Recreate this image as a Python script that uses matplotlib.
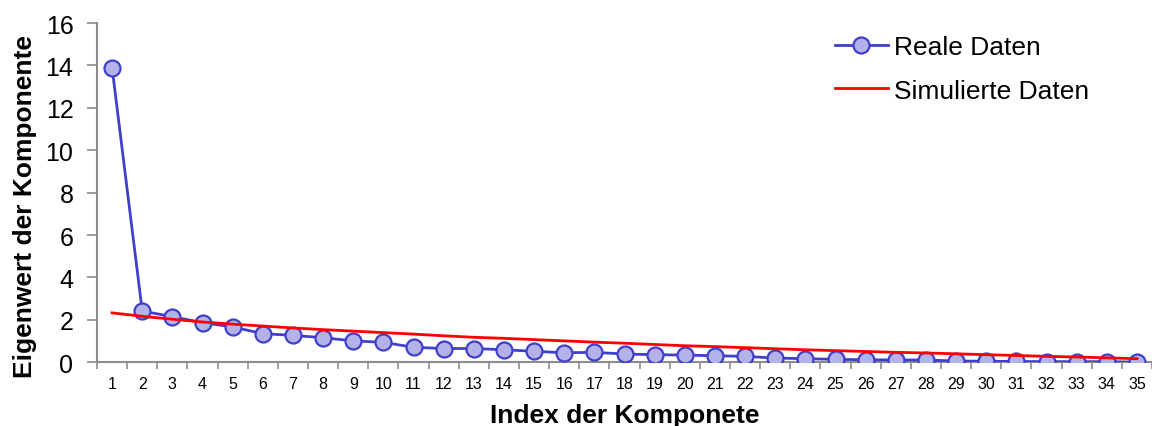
import matplotlib
matplotlib.use("Agg")
import matplotlib.pyplot as plt
from matplotlib.ticker import FixedLocator

plt.rcParams['font.family'] = ['Liberation Sans', 'DejaVu Sans']

components = list(range(1, 36))
real_data = [13.9, 2.42, 2.15, 1.87, 1.67, 1.35, 1.27, 1.16, 1.01, 0.94,
             0.71, 0.65, 0.65, 0.59, 0.52, 0.45, 0.47, 0.39, 0.36, 0.34,
             0.31, 0.28, 0.20, 0.17, 0.14, 0.12, 0.11, 0.11, 0.06, 0.05,
             0.04, 0.03, 0.03, 0.03, 0.01]
sim_data = [2.33, 2.17, 2.03, 1.90, 1.80, 1.71, 1.62, 1.54, 1.47, 1.40,
            1.33, 1.25, 1.18, 1.13, 1.07, 1.01, 0.95, 0.90, 0.84, 0.78,
            0.74, 0.69, 0.64, 0.59, 0.55, 0.51, 0.47, 0.44, 0.40, 0.36,
            0.32, 0.28, 0.25, 0.21, 0.17]
y_ticks = [0, 2, 4, 6, 8, 10, 12, 14, 16]

W, H = 1152, 427
fig = plt.figure(figsize=(W / 100, H / 100), dpi=100)
left, right, top, bottom = 97, 1152, 24, 363.3
aw, ah = right - left, bottom - top
ax = fig.add_axes([left / W, 1 - bottom / H, aw / W, ah / H])

ax.plot(components, real_data, color='#3f3fcc', lw=2.0, marker='o', ms=11.5,
        markerfacecolor='#b3b3ea', markeredgecolor='#3f3fcc', markeredgewidth=1.6,
        label='Reale Daten', zorder=3)
ax.plot(components, sim_data, color='#ff0000', lw=2.0, label='Simulierte Daten', zorder=4)

ax.set_xlim(0.5, 35.5)
ax.set_ylim(0, 16)
ax.set_yticks(y_ticks)
ax.set_xticks(components)
ax.set_xticklabels([str(c) for c in components], fontsize=11.5)
ax.xaxis.set_minor_locator(FixedLocator([c + 0.5 for c in range(0, 36)]))
ax.tick_params(axis='x', which='major', length=0, pad=10)
ax.tick_params(axis='x', which='minor', length=5, width=1.2, color='#8c8c8c', direction='out')
ax.tick_params(axis='y', which='major', length=7, width=1.2, color='#8c8c8c', labelsize=18, pad=10)

for s in ['top', 'right']:
    ax.spines[s].set_visible(False)
for s in ['left', 'bottom']:
    ax.spines[s].set_color('#8c8c8c')
    ax.spines[s].set_linewidth(1.5)

xl = ax.set_xlabel('Index der Komponete', fontsize=19, fontweight='bold')
xl.set_va('baseline')
ax.xaxis.set_label_coords(0.5, (bottom - 423) / ah)

yl = ax.set_ylabel('Eigenwert der Komponente', fontsize=19, fontweight='bold')
yl.set_rotation_mode('anchor')
yl.set_va('baseline')
ax.yaxis.set_label_coords((32 - left) / aw, (bottom - 206) / ah)

leg = ax.legend(loc='upper left', bbox_to_anchor=((835 - left) / aw, (bottom - 36) / ah),
                frameon=False, fontsize=19, handlelength=2.0, handletextpad=0.25,
                labelspacing=0.74, borderaxespad=0, borderpad=0)

fig.savefig('out.png', dpi=100)
